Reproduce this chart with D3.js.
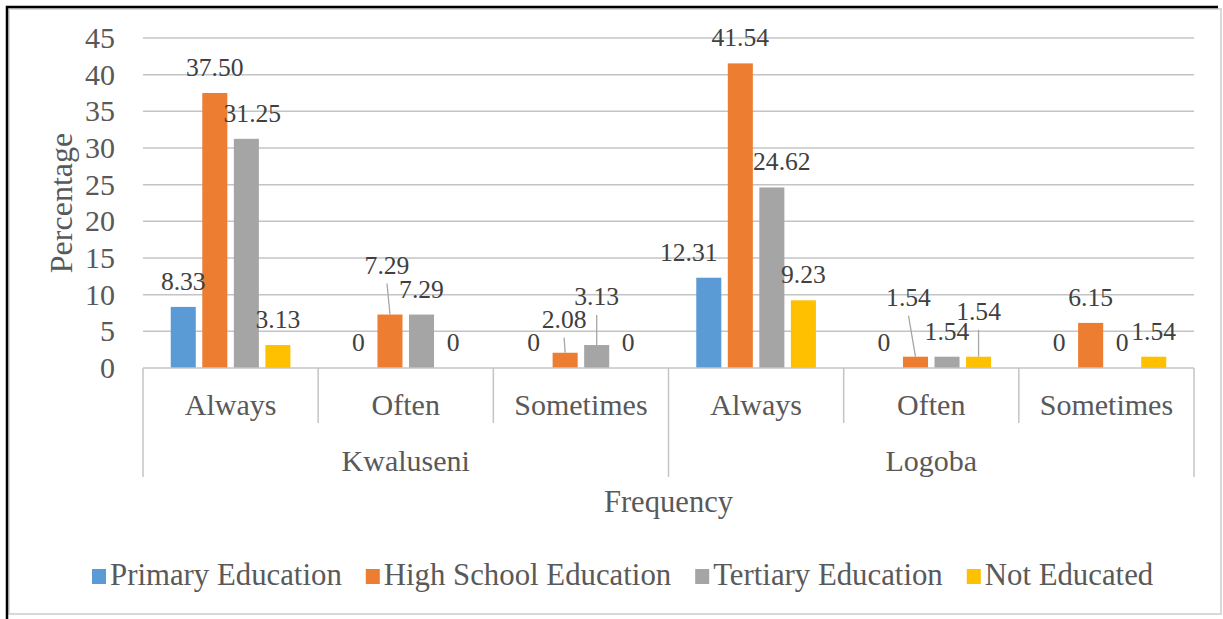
<!DOCTYPE html>
<html>
<head>
<meta charset="utf-8">
<script src="https://cdn.jsdelivr.net/npm/d3@7"></script>
<style>
  html, body { margin: 0; padding: 0; background: #fff; }
  svg { display: block; font-family: "Liberation Serif", "Times New Roman", serif; }
</style>
</head>
<body>
<svg id="chart" width="1223" height="619"></svg>
<script>
// ---- data ----
const groups = ["Kwaluseni", "Logoba"];
const frequencies = ["Always", "Often", "Sometimes"];
const seriesNames = ["Primary Education", "High School Education", "Tertiary Education", "Not Educated"];
const primaryEducation = [8.33, 0, 0, 12.31, 0, 0];
const highSchoolEducation = [37.50, 7.29, 2.08, 41.54, 1.54, 6.15];
const tertiaryEducation = [31.25, 7.29, 3.13, 24.62, 1.54, 0];
const notEducated = [3.13, 0, 0, 9.23, 1.54, 1.54];
const yTicks = [0, 5, 10, 15, 20, 25, 30, 35, 40, 45];
const colors = ["#5b9bd5", "#ed7d31", "#a5a5a5", "#ffc000"];

(function () {
const seriesValues = [primaryEducation, highSchoolEducation, tertiaryEducation, notEducated];
// label nudges [series, category, dx, dy, leaderLine]
const labelNudges = [
  [2, 0, 6, 0, false],
  [1, 1, -3, -24, true],
  [1, 2, -1, -8, true],
  [2, 2, 0, -23, true],
  [0, 3, -20, 0, false],
  [2, 3, 10, 0, false],
  [1, 4, -7, -34, true],
  [3, 4, 0, -20, true]
];

const cats = [];
groups.forEach(g => frequencies.forEach(f => cats.push({ group: g, freq: f, key: g + "|" + f })));

const svg = d3.select("#chart");
const textColor = "#595959";
const lineColor = "#c4c4c4";

// frame
svg.append("rect").attr("x", 9).attr("y", 9).attr("width", 1212).attr("height", 605)
  .attr("fill", "#fff").attr("stroke", "#d9d9d9").attr("stroke-width", 2);
svg.append("path").attr("d", "M7,619 V7 H1218").attr("fill", "none")
  .attr("stroke", "#000").attr("stroke-width", 2.5);

const pLeft = 143, pRight = 1194, pTop = 38, pBottom = 368;
const x0 = d3.scaleBand().domain(cats.map(c => c.key)).range([pLeft, pRight]).padding(0);
const x1 = d3.scaleBand().domain(seriesNames).range([0, x0.bandwidth()])
  .paddingInner(0.206).paddingOuter(0.88);
const y = d3.scaleLinear().domain([0, 45]).range([pBottom, pTop]);

// gridlines
svg.append("g").selectAll("line").data(yTicks.filter(t => t > 0)).join("line")
  .attr("x1", pLeft).attr("x2", pRight)
  .attr("y1", d => y(d)).attr("y2", d => y(d))
  .attr("stroke", lineColor).attr("stroke-width", 1.5);

// y tick labels
svg.append("g").selectAll("text").data(yTicks).join("text")
  .attr("x", 115).attr("y", d => y(d) + 10)
  .attr("text-anchor", "end").attr("font-size", 30).attr("fill", textColor)
  .text(d => d);

// bars
seriesNames.forEach((s, si) => {
  svg.append("g").selectAll("rect").data(seriesValues[si]).join("rect")
    .attr("x", (d, i) => x0(cats[i].key) + x1(s))
    .attr("width", x1.bandwidth())
    .attr("y", d => y(d))
    .attr("height", d => y(0) - y(d))
    .attr("fill", colors[si]);
});

// baseline + category axis
const axisG = svg.append("g").attr("stroke", lineColor).attr("stroke-width", 1.5);
axisG.append("line").attr("x1", pLeft).attr("x2", pRight).attr("y1", pBottom).attr("y2", pBottom);
const boundaries = cats.map(c => x0(c.key)).concat([pRight]);
boundaries.forEach((bx, i) => {
  const outer = (i % frequencies.length === 0);
  axisG.append("line").attr("x1", bx).attr("x2", bx)
    .attr("y1", pBottom).attr("y2", outer ? 477 : 423);
});

// category labels
svg.append("g").selectAll("text").data(cats).join("text")
  .attr("x", d => x0(d.key) + x0.bandwidth() / 2).attr("y", 415)
  .attr("text-anchor", "middle").attr("font-size", 30).attr("fill", textColor)
  .text(d => d.freq);
svg.append("g").selectAll("text").data(groups).join("text")
  .attr("x", g => {
    const ks = cats.filter(c => c.group === g).map(c => c.key);
    return (x0(ks[0]) + x0(ks[ks.length - 1]) + x0.bandwidth()) / 2;
  })
  .attr("y", 471)
  .attr("text-anchor", "middle").attr("font-size", 30).attr("fill", textColor)
  .text(g => g);

// data labels
const fmt = v => v === 0 ? "0" : v.toFixed(2);
const labelG = svg.append("g");
seriesNames.forEach((s, si) => {
  seriesValues[si].forEach((v, ci) => {
    const cx = x0(cats[ci].key) + x1(s) + x1.bandwidth() / 2;
    const barTop = y(v);
    let lx = cx, ly = barTop - 17, leader = false;
    const n = labelNudges.find(a => a[0] === si && a[1] === ci);
    if (n) { lx += n[2]; ly += n[3]; leader = n[4]; }
    if (leader) {
      labelG.append("line").attr("x1", lx).attr("y1", ly + 10).attr("x2", cx).attr("y2", barTop)
        .attr("stroke", "#a6a6a6").attr("stroke-width", 1.3);
    }
    labelG.append("text").attr("x", lx).attr("y", ly)
      .attr("text-anchor", "middle").attr("font-size", 25.6).attr("fill", "#404040")
      .text(fmt(v));
  });
});

// axis titles
svg.append("text").attr("x", 668.5).attr("y", 512)
  .attr("text-anchor", "middle").attr("font-size", 30.6).attr("fill", textColor)
  .text("Frequency");
svg.append("text").attr("transform", `translate(72,${(pTop + pBottom) / 2}) rotate(-90)`)
  .attr("text-anchor", "middle").attr("font-size", 32).attr("fill", textColor)
  .text("Percentage");

// legend
const legend = svg.append("g");
let lxPos = 92;
seriesNames.forEach((s, si) => {
  legend.append("rect").attr("x", lxPos).attr("y", 569).attr("width", 14).attr("height", 15)
    .attr("fill", colors[si]);
  const t = legend.append("text").attr("x", lxPos + 18).attr("y", 585)
    .attr("font-size", 30.8).attr("fill", textColor).text(s);
  lxPos += 18 + t.node().getComputedTextLength() + 24;
});
})();
</script>
</body>
</html>
